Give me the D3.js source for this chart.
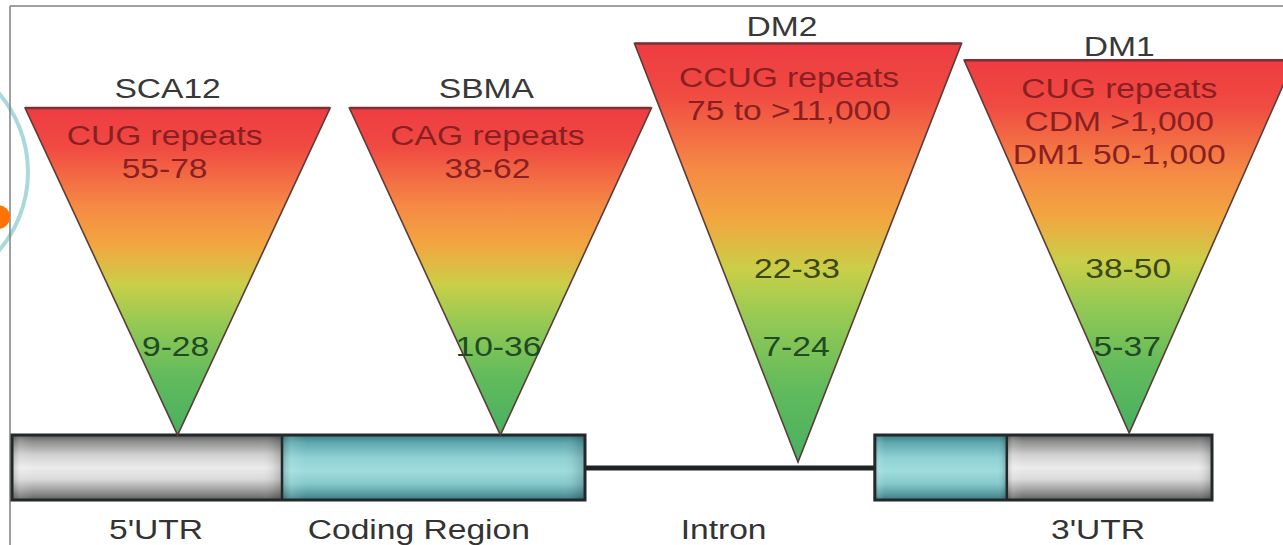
<!DOCTYPE html>
<html><head><meta charset="utf-8">
<script src="https://cdn.jsdelivr.net/npm/d3@7"></script>
<style>
html,body{margin:0;padding:0;background:#fff;overflow:hidden;}
svg{display:block;}
text{font-family:"Liberation Sans",Arial,Helvetica,sans-serif;}
</style></head>
<body>
<svg id="chart" width="1283" height="545"></svg>
<script>
// ---------------- data ----------------
const diseases      = ["SCA12", "SBMA", "DM2", "DM1"];
const repeatTypes   = ["CUG repeats", "CAG repeats", "CCUG repeats", "CUG repeats"];
const expandedRange = [["55-78"], ["38-62"], ["75 to >11,000"], ["CDM >1,000", "DM1 50-1,000"]];
const premutation   = ["", "", "22-33", "38-50"];
const normalRange   = ["9-28", "10-36", "7-24", "5-37"];
const regionNames   = ["5'UTR", "Coding Region", "Intron", "3'UTR"];
// insertion site of each repeat along the gene (gene units, 0..1000)
const insertSite    = [138, 407, 655, 931];
// relative expansion size (drives triangle height)
const expansionSize = [1.0, 1.0, 1.28, 1.14];

// ---------------- layout ----------------
const W = 1283, H = 545;
const svg = d3.select("#chart");
const x = d3.scaleLinear().domain([0, 1000]).range([12, 1212]);
const barTop = 435, barBot = 500, barMid = 468;
const size = d3.scaleLinear().domain([0, 1]).range([0, 327]);
const apexY = [435, 435, 462, 433];
const halfWidth = [152.5, 151, 163.5, 165];
const sx = 1.2;

const defs = svg.append("defs");
const tg = defs.append("linearGradient").attr("id", "tri").attr("x1", 0).attr("y1", 0).attr("x2", 0).attr("y2", 1);
[[0, "#ee3c42"], [0.12, "#f04a42"], [0.3, "#f58a45"], [0.42, "#f2a640"], [0.54, "#c9cf48"], [0.66, "#94c954"], [0.82, "#62bb5c"], [1, "#48b060"]]
  .forEach(([o, c]) => tg.append("stop").attr("offset", o).attr("stop-color", c));
const gg = defs.append("linearGradient").attr("id", "gray").attr("x1", 0).attr("y1", 0).attr("x2", 0).attr("y2", 1);
[[0, "#5a5a5a"], [0.1, "#8e8e8e"], [0.3, "#cfcfcf"], [0.5, "#ececec"], [0.68, "#dadada"], [0.86, "#9a9a9a"], [1, "#606060"]]
  .forEach(([o, c]) => gg.append("stop").attr("offset", o).attr("stop-color", c));
const cg = defs.append("linearGradient").attr("id", "cyan").attr("x1", 0).attr("y1", 0).attr("x2", 0).attr("y2", 1);
[[0, "#3a7c83"], [0.12, "#5fa9ae"], [0.35, "#8fd1d4"], [0.55, "#9fdcde"], [0.75, "#86c9cc"], [0.9, "#5a9ea3"], [1, "#3b7a80"]]
  .forEach(([o, c]) => cg.append("stop").attr("offset", o).attr("stop-color", c));
const hg = defs.append("linearGradient").attr("id", "ends").attr("x1", 0).attr("y1", 0).attr("x2", 1).attr("y2", 0);
[[0, "#000", 0.18], [0.03, "#fff", 0.12], [0.08, "#fff", 0], [0.92, "#fff", 0], [0.97, "#000", 0.08], [1, "#000", 0.2]]
  .forEach(([o, c, a]) => hg.append("stop").attr("offset", o).attr("stop-color", c).attr("stop-opacity", a));

// frame and slide decoration
svg.append("circle").attr("cx", -93).attr("cy", 172).attr("r", 121)
  .attr("fill", "none").attr("stroke", "#a9d9dd").attr("stroke-width", 4);
svg.append("line").attr("x1", 10).attr("x2", W).attr("y1", 6).attr("y2", 6).attr("stroke", "#808080").attr("stroke-width", 1.5);
svg.append("line").attr("x1", 10).attr("x2", 10).attr("y1", 6).attr("y2", H).attr("stroke", "#808080").attr("stroke-width", 1.5);
svg.append("circle").attr("cx", -2).attr("cy", 217).attr("r", 12).attr("fill", "#ff7300");

// gene structure
const segs = [
  {x0: 0, x1: 225, fill: "url(#gray)"},
  {x0: 225, x1: 477.5, fill: "url(#cyan)"},
  {x0: 719, x1: 829, fill: "url(#cyan)"},
  {x0: 829, x1: 1000, fill: "url(#gray)"}
];
svg.append("line").attr("x1", x(477.5)).attr("x2", x(719)).attr("y1", barMid).attr("y2", barMid)
  .attr("stroke", "#1e2326").attr("stroke-width", 5);
const gs = svg.append("g");
gs.selectAll("rect.seg").data(segs).join("rect").attr("class", "seg")
  .attr("x", d => x(d.x0)).attr("width", d => x(d.x1) - x(d.x0))
  .attr("y", barTop).attr("height", barBot - barTop).attr("fill", d => d.fill);
gs.selectAll("rect.shade").data(segs).join("rect").attr("class", "shade")
  .attr("x", d => x(d.x0)).attr("width", d => x(d.x1) - x(d.x0))
  .attr("y", barTop).attr("height", barBot - barTop).attr("fill", "url(#ends)");
[[0, 477.5], [719, 1000]].forEach(([a, b]) =>
  gs.append("rect").attr("x", x(a)).attr("y", barTop).attr("width", x(b) - x(a)).attr("height", barBot - barTop)
    .attr("fill", "none").attr("stroke", "#23282a").attr("stroke-width", 3));
[225, 829].forEach(v => gs.append("line").attr("x1", x(v)).attr("x2", x(v)).attr("y1", barTop).attr("y2", barBot)
  .attr("stroke", "#23282a").attr("stroke-width", 2.5));

// triangles
const tri = svg.append("g");
diseases.forEach((name, i) => {
  const ax = x(insertSite[i]), ay = apexY[i];
  const h = size(expansionSize[i]);
  const ty = ay - h;
  const hw = halfWidth[i];
  tri.append("path")
    .attr("d", `M${ax - hw},${ty} L${ax + hw},${ty} L${ax},${ay} Z`)
    .attr("fill", "url(#tri)").attr("stroke", "#5b3b3b").attr("stroke-width", 1.6).attr("stroke-linejoin", "miter");
  tri.append("line").attr("x1", ax - hw).attr("x2", ax + hw).attr("y1", ty).attr("y2", ty)
    .attr("stroke", "#7d2f33").attr("stroke-width", 2.5);
});

function label(g, cx, y, str, color, fs) {
  g.append("g").attr("transform", `translate(${cx},${y}) scale(${sx},1)`)
    .append("text").attr("text-anchor", "middle").attr("font-size", fs || 28)
    .attr("fill", color).text(str);
}
const tx = svg.append("g");
const nameY = [98, 98, 36, 56];
const nameDx = [-10, -14, -16, -10];
const topDx = [-13, -13, -9, -10];
const topY = [145, 145, 87, 98];
diseases.forEach((name, i) => {
  const ax = x(insertSite[i]);
  label(tx, ax + nameDx[i], nameY[i], name, "#383838", 28);
  const lines = [repeatTypes[i]].concat(expandedRange[i]);
  lines.forEach((s, k) => label(tx, ax + topDx[i], topY[i] + k * 33, s, "#8a1f22", 28));
  if (premutation[i]) label(tx, ax - 1, 278, premutation[i], "#3d4712", 28);
  label(tx, ax - 2, 356, normalRange[i], "#1f4a22", 28);
});

// region labels
const regionCenters = [x(120), x(339), x(593), x(905)];
regionNames.forEach((r, i) => label(tx, regionCenters[i], 539, r, "#333", 28));
</script>
</body></html>
